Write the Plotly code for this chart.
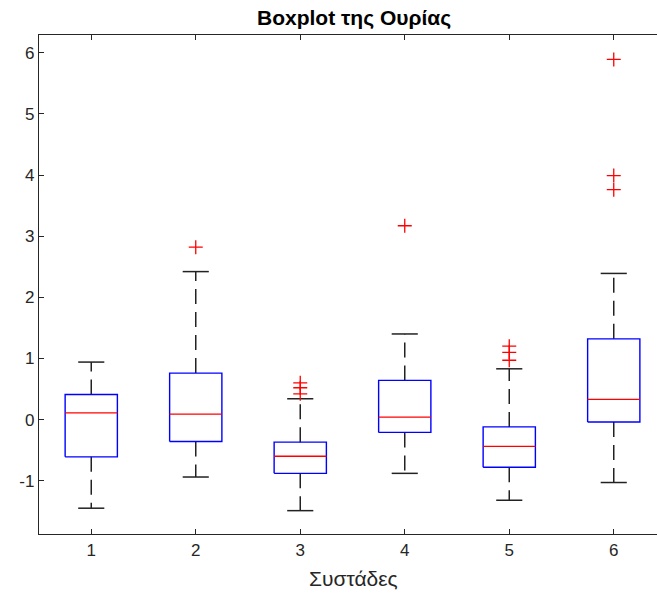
import plotly.graph_objects as go

groups = [1, 2, 3, 4, 5, 6]
tick_labels = ["1", "2", "3", "4", "5", "6"]
q1 = [-0.61, -0.36, -0.88, -0.21, -0.78, -0.04]
median = [0.11, 0.09, -0.60, 0.04, -0.44, 0.33]
q3 = [0.41, 0.76, -0.37, 0.64, -0.12, 1.32]
lower_whisker = [-1.45, -0.94, -1.49, -0.88, -1.32, -1.03]
upper_whisker = [0.94, 2.42, 0.34, 1.40, 0.83, 2.39]
outliers = {
    2: [2.82],
    3: [0.42, 0.52, 0.60],
    4: [3.17],
    5: [0.97, 1.10, 1.20],
    6: [3.76, 3.99, 5.89],
}

title_text = "Boxplot της Ουρίας"
xlabel_text = "Συστάδες"

BOX_HALF = 0.25
CAP_HALF = 0.125
axis_col = "#262626"
font_family = "Liberation Sans, Arial, sans-serif"

wx, wy, cx, cy, bx, by, mx, my = [], [], [], [], [], [], [], []
for g, a, m, b, lo, hi in zip(groups, q1, median, q3, lower_whisker, upper_whisker):
    wx += [g, g, None, g, g, None]
    wy += [b, hi, None, a, lo, None]
    cx += [g - CAP_HALF, g + CAP_HALF, None, g - CAP_HALF, g + CAP_HALF, None]
    cy += [hi, hi, None, lo, lo, None]
    bx += [g - BOX_HALF, g + BOX_HALF, g + BOX_HALF, g - BOX_HALF, g - BOX_HALF, None]
    by += [a, a, b, b, a, None]
    mx += [g - BOX_HALF, g + BOX_HALF, None]
    my += [m, m, None]

ox, oy = [], []
for g, vals in outliers.items():
    for v in vals:
        ox.append(g)
        oy.append(v)

fig = go.Figure()
fig.add_trace(go.Scatter(x=wx, y=wy, mode="lines",
                         line=dict(color="#222222", width=1.5, dash="15px,8px"),
                         hoverinfo="skip", showlegend=False))
fig.add_trace(go.Scatter(x=cx, y=cy, mode="lines",
                         line=dict(color="#222222", width=1.5),
                         hoverinfo="skip", showlegend=False))
fig.add_trace(go.Scatter(x=bx, y=by, mode="lines",
                         line=dict(color="#0000ff", width=1.4),
                         hoverinfo="skip", showlegend=False))
fig.add_trace(go.Scatter(x=mx, y=my, mode="lines",
                         line=dict(color="#ff0000", width=1.3),
                         hoverinfo="skip", showlegend=False))
fig.add_trace(go.Scatter(x=ox, y=oy, mode="markers",
                         marker=dict(symbol="cross-thin", size=10,
                                     line=dict(color="#ff0000", width=1.3)),
                         hoverinfo="skip", showlegend=False))

L, T, B = 39, 35, 61
W, H = 657, 595
px_per_unit_x = 104.5
x_right = 0.5 + (W - L) / px_per_unit_x

fig.update_layout(
    width=W, height=H,
    margin=dict(l=L, r=0, t=T, b=B),
    paper_bgcolor="white", plot_bgcolor="white",
    font=dict(family=font_family, color=axis_col, size=18),
    showlegend=False,
    xaxis=dict(range=[0.5, x_right], tickmode="array", tickvals=groups,
               ticktext=tick_labels, ticks="inside", ticklen=5, tickcolor=axis_col,
               showline=True, linecolor=axis_col, linewidth=1.3, mirror="ticks",
               showgrid=False, zeroline=False, tickfont=dict(size=17, color=axis_col)),
    yaxis=dict(range=[-1.872, 6.29], tickmode="array",
               tickvals=[-1, 0, 1, 2, 3, 4, 5, 6],
               ticktext=["-1", "0", "1", "2", "3", "4", "5", "6"],
               ticks="inside", ticklen=5, tickcolor=axis_col,
               showline=True, linecolor=axis_col, linewidth=1.3, mirror=False,
               showgrid=False, zeroline=False, tickfont=dict(size=17, color=axis_col)),
    annotations=[
        dict(text="<b>" + title_text + "</b>", xref="paper", yref="paper",
             x=(354 - L) / (W - L), y=(H - B - 18) / (H - B - T),
             xanchor="center", yanchor="middle", showarrow=False,
             font=dict(size=21, color="black", family=font_family)),
        dict(text=xlabel_text, xref="paper", yref="paper",
             x=(353 - L) / (W - L), y=-(578 - (H - B)) / (H - B - T),
             xanchor="center", yanchor="middle", showarrow=False,
             font=dict(size=21, color=axis_col, family=font_family)),
    ],
)

fig.write_html("out.html")
